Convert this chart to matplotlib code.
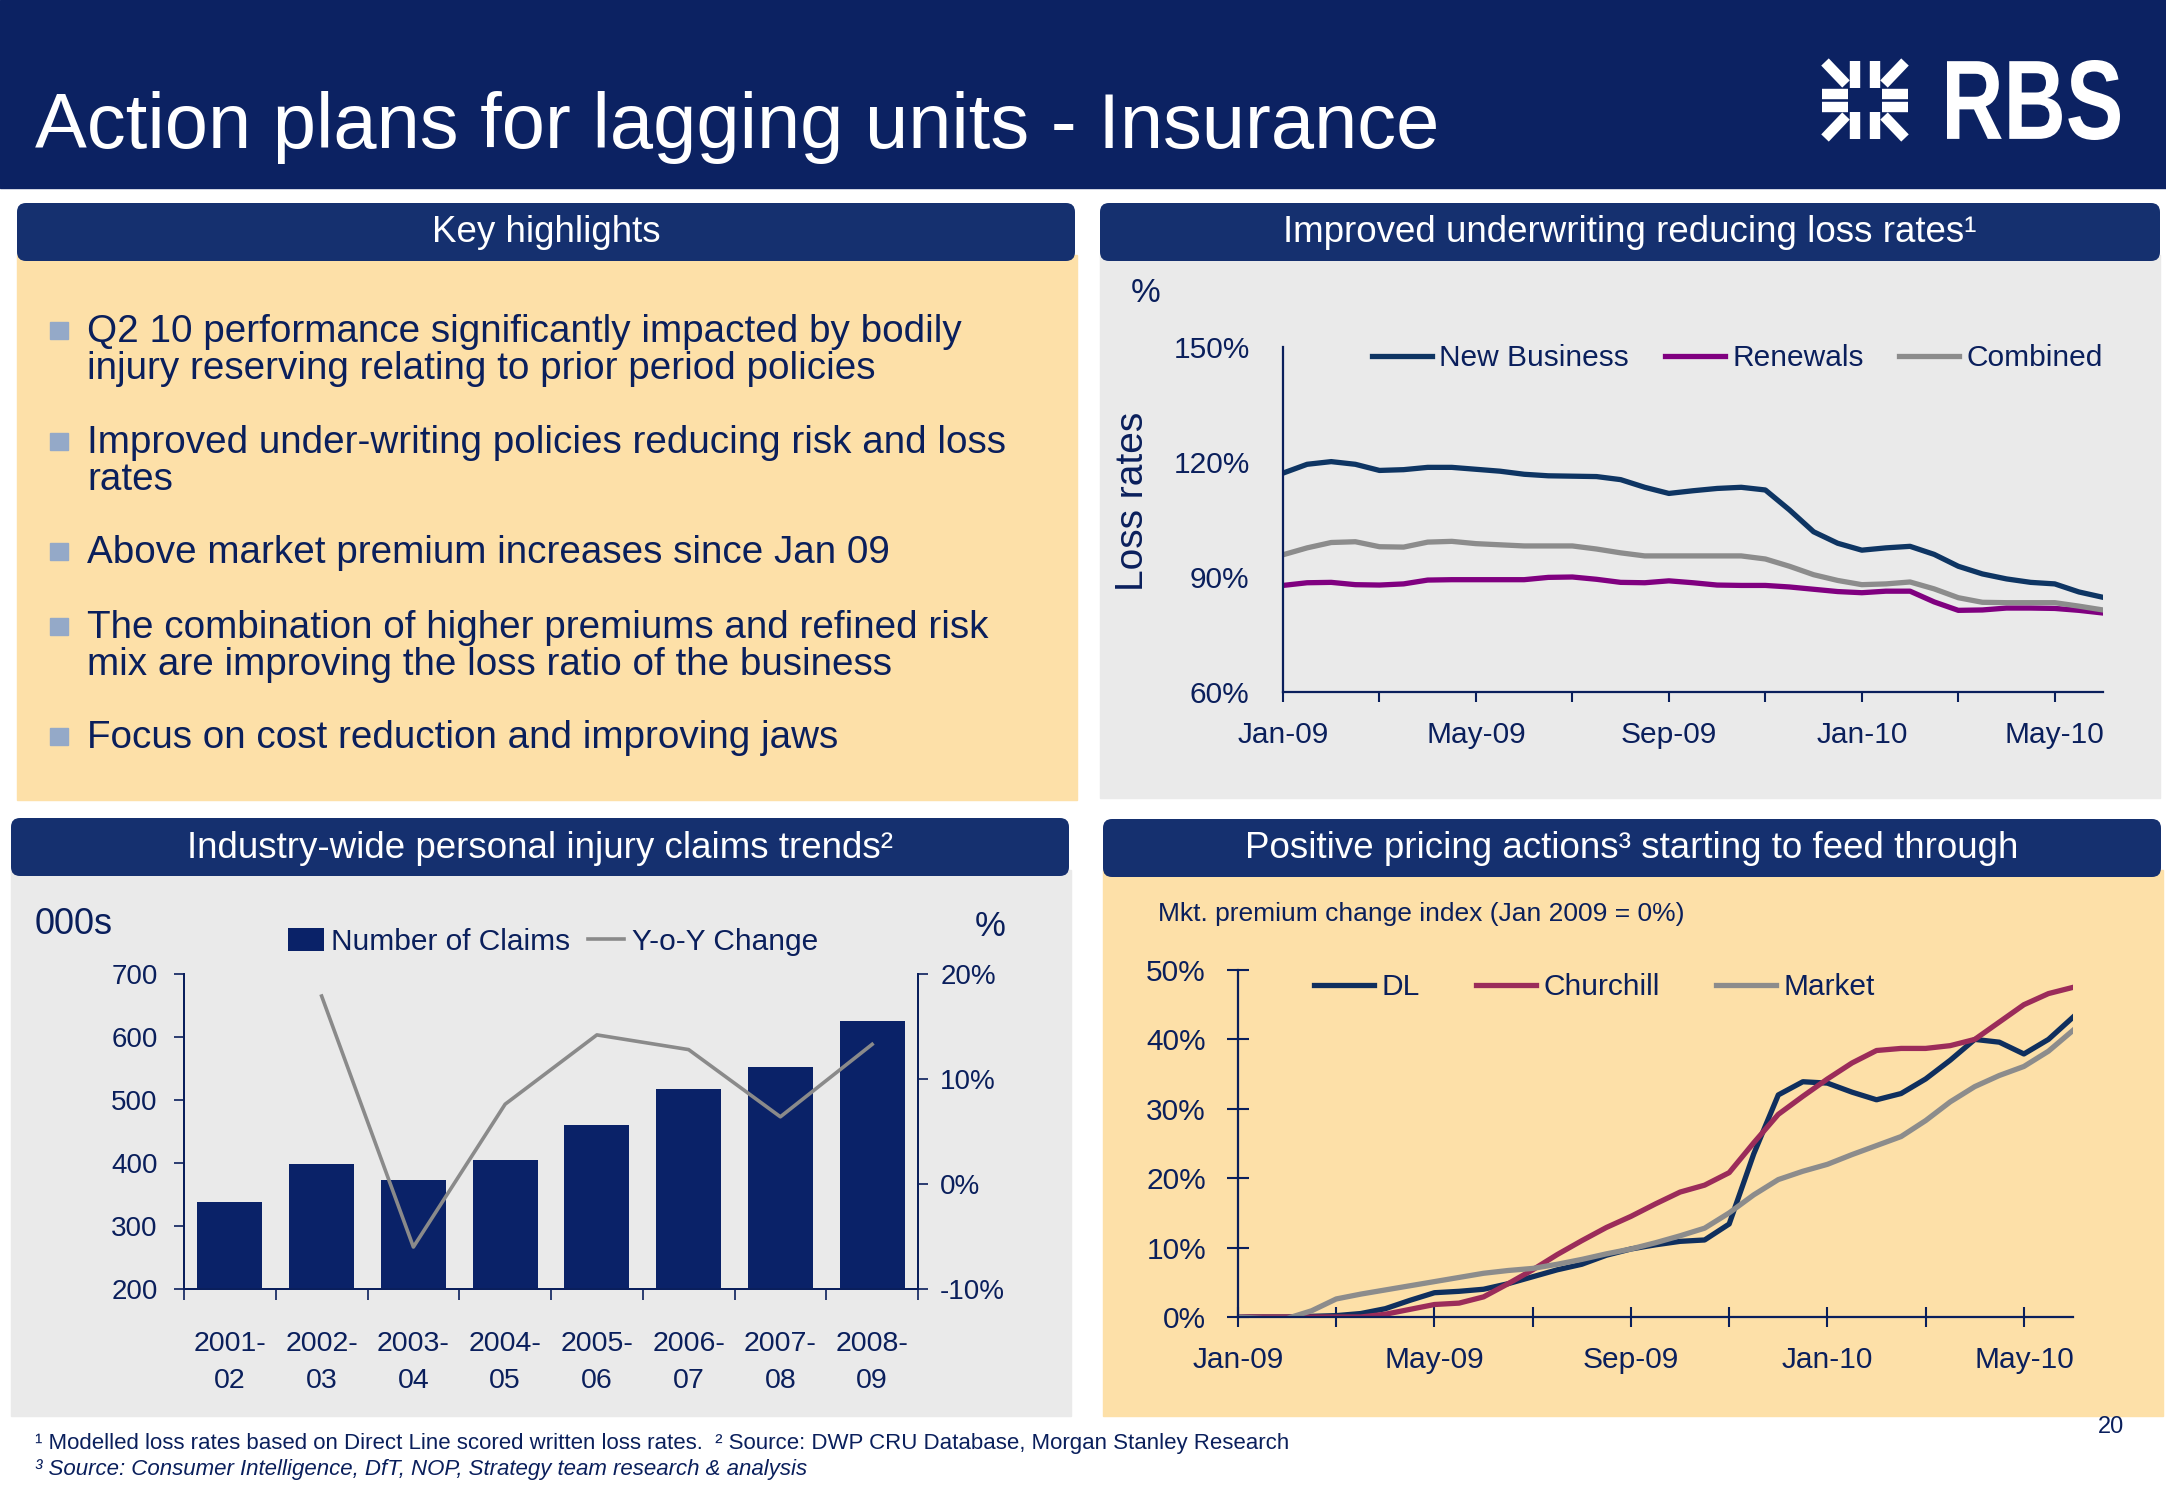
import numpy as np
import matplotlib
matplotlib.use("Agg")
import matplotlib.pyplot as plt
from matplotlib.patches import FancyBboxPatch, Rectangle, PathPatch
from matplotlib.textpath import TextPath
from matplotlib.font_manager import FontProperties
from matplotlib.transforms import Affine2D

plt.rcParams['font.family'] = ['Liberation Sans', 'DejaVu Sans']

W, H = 2166, 1500
BAND = '#0c2262'
HEAD = '#15306f'
TXT = '#0a1f5c'
PEACH = '#fde0a8'
GREYBG = '#eaeaea'

# ---- data ----
# half-month steps, Jan-09 .. Jun-10
half_months = np.arange(35) / 2
new_business = [117.1, 119.4, 120.1, 119.4, 117.8, 118.0, 118.6, 118.6, 118.1, 117.6,
                116.8, 116.4, 116.3, 116.2, 115.4, 113.4, 111.8, 112.5, 113.1, 113.4,
                112.7, 107.5, 101.8, 98.8, 97.0, 97.6, 98.0, 95.9, 92.8, 90.8,
                89.5, 88.6, 88.2, 86.1, 84.7]
renewals = [87.8, 88.5, 88.6, 88.0, 87.9, 88.2, 89.2, 89.3, 89.3, 89.3,
            89.3, 89.9, 90.0, 89.4, 88.6, 88.5, 89.0, 88.5, 87.9, 87.8,
            87.8, 87.4, 86.8, 86.2, 85.9, 86.3, 86.3, 83.5, 81.3, 81.4,
            81.9, 81.9, 81.8, 81.3, 80.6]
combined = [95.8, 97.6, 99.0, 99.2, 97.9, 97.8, 99.1, 99.3, 98.7, 98.4,
            98.1, 98.1, 98.1, 97.3, 96.3, 95.5, 95.5, 95.5, 95.5, 95.5,
            94.7, 92.8, 90.6, 89.1, 88.0, 88.2, 88.7, 86.9, 84.6, 83.4,
            83.3, 83.3, 83.3, 82.4, 81.4]

dl = [0.0, 0.0, 0.0, 0.1, 0.2, 0.5, 1.2, 2.4, 3.5, 3.7,
      4.0, 4.8, 5.8, 6.8, 7.6, 8.9, 9.8, 10.4, 10.9, 11.1,
      13.4, 23.5, 32.0, 33.9, 33.7, 32.4, 31.3, 32.2, 34.3, 37.0,
      40.0, 39.6, 37.9, 40.0, 43.2]
churchill = [0.0, 0.0, 0.0, 0.0, 0.0, 0.0, 0.4, 1.1, 1.8, 2.0,
             2.9, 4.8, 6.8, 9.0, 11.0, 12.9, 14.5, 16.3, 18.0, 19.0,
             20.8, 25.1, 29.2, 31.8, 34.3, 36.6, 38.4, 38.7, 38.7, 39.1,
             40.0, 42.5, 45.0, 46.6, 47.5]
market = [0.0, -0.2, -0.2, 0.9, 2.6, 3.3, 3.9, 4.5, 5.1, 5.7,
          6.3, 6.7, 7.0, 7.6, 8.3, 9.1, 9.8, 10.7, 11.7, 12.8,
          15.0, 17.6, 19.8, 21.0, 22.0, 23.4, 24.7, 26.0, 28.3, 31.0,
          33.2, 34.8, 36.1, 38.3, 41.3]

month_ticks = [0, 4, 8, 12, 16]
month_labels = ['Jan-09', 'May-09', 'Sep-09', 'Jan-10', 'May-10']

periods = ['2001-\n02', '2002-\n03', '2003-\n04', '2004-\n05',
           '2005-\n06', '2006-\n07', '2007-\n08', '2008-\n09']
claims = [338, 398, 373, 404, 461, 518, 552, 626]
yoy = [np.nan, 17.9, -6.0, 7.6, 14.2, 12.8, 6.4, 13.3]

highlights = [
    ["Q2 10 performance significantly impacted by bodily",
     "injury reserving relating to prior period policies"],
    ["Improved under-writing policies reducing risk and loss", "rates"],
    ["Above market premium increases since Jan 09"],
    ["The combination of higher premiums and refined risk",
     "mix are improving the loss ratio of the business"],
    ["Focus on cost reduction and improving jaws"],
]
highlight_y = [342, 453, 563, 638, 748]

fig = plt.figure(figsize=(W / 100, H / 100), dpi=100)
page = fig.add_axes([0, 0, 1, 1])
page.set_xlim(0, W)
page.set_ylim(H, 0)
page.axis('off')


def axes_px(x0, y0, x1, y1):
    ax = fig.add_axes([x0 / W, 1 - y1 / H, (x1 - x0) / W, (y1 - y0) / H])
    ax.set_facecolor('none')
    return ax


def header(x, y, w, h, title):
    page.add_patch(FancyBboxPatch((x, y), w, h, boxstyle="round,pad=0,rounding_size=9",
                                  fc=HEAD, ec='none'))
    page.text(x + w / 2, y + h / 2 + 1, title, color='white', fontsize=26.5,
              ha='center', va='center')


# top band and title
page.add_patch(Rectangle((0, 0), W, 188, color=BAND))
page.text(35, 148, "Action plans for lagging units - Insurance", color='white',
          fontsize=56, va='baseline')

# RBS logo
fp = FontProperties(family='Liberation Sans', weight='bold')
tp = TextPath((0, 0), "RBS", size=1, prop=fp)
bb = tp.get_extents()
tr = Affine2D().translate(-bb.x0, -bb.y0).scale(173 / bb.width, -80 / bb.height).translate(1947, 140)
page.add_patch(PathPatch(tr.transform_path(tp), fc='white', ec='none'))
cx, cy = 1865, 100
for sx in (-1, 1):
    for sy in (-1, 1):
        page.plot([cx + sx * 40, cx + sx * 19], [cy + sy * 38, cy + sy * 16],
                  color='white', lw=7.5, solid_capstyle='butt')
        page.plot([cx + sx * 10, cx + sx * 10], [cy + sy * 12, cy + sy * 39],
                  color='white', lw=7.5, solid_capstyle='butt')
        page.plot([cx + sx * 17, cx + sx * 43], [cy + sy * 6.5, cy + sy * 6.5],
                  color='white', lw=7.5, solid_capstyle='butt')

# panel bodies
page.add_patch(Rectangle((17, 255), 1060, 545, color=PEACH))
page.add_patch(Rectangle((1100, 255), 1060, 543, color=GREYBG))
page.add_patch(Rectangle((11, 870), 1060, 546, color=GREYBG))
page.add_patch(Rectangle((1103, 870), 1060, 546, color=PEACH))

header(17, 203, 1058, 58, "Key highlights")
header(1100, 203, 1060, 58, "Improved underwriting reducing loss rates\u00b9")
header(11, 818, 1058, 58, "Industry-wide personal injury claims trends\u00b2")
header(1103, 819, 1058, 58, "Positive pricing actions\u00b3 starting to feed through")

# key highlights
for lines, yb in zip(highlights, highlight_y):
    page.add_patch(Rectangle((50, yb - 20), 18, 17, color='#94a9c8'))
    for k, ln in enumerate(lines):
        page.text(87, yb + 37 * k, ln, color=TXT, fontsize=27.8, va='baseline')

# ---- loss rates chart ----
ax1 = axes_px(1283, 347, 2103, 692)
ax1.plot(half_months, new_business, color='#0e3563', lw=3.8, label='New Business')
ax1.plot(half_months, renewals, color='#800080', lw=3.8, label='Renewals')
ax1.plot(half_months, combined, color='#8c8c8c', lw=3.8, label='Combined')
ax1.set_xlim(0, 17)
ax1.set_ylim(60, 150)
ax1.set_yticks([60, 90, 120, 150])
ax1.set_yticklabels(['60%', '90%', '120%', '150%'])
ax1.set_xticks(month_ticks)
ax1.set_xticklabels(month_labels)
ax1.set_xticks([2, 6, 10, 14], minor=True)
for s in ['top', 'right']:
    ax1.spines[s].set_visible(False)
for s in ['left', 'bottom']:
    ax1.spines[s].set_color(TXT)
    ax1.spines[s].set_linewidth(1.6)
ax1.tick_params(axis='y', length=0, pad=24, labelsize=21.5, labelcolor=TXT)
ax1.tick_params(axis='x', which='both', direction='out', length=7, width=1.5,
                color=TXT, pad=14, labelsize=21.5, labelcolor=TXT)
ax1.legend(loc='center right', bbox_to_anchor=(1.0, 1 - 11 / 345), ncol=3,
           frameon=False, fontsize=21.5, labelcolor=TXT, handlelength=2.0,
           handletextpad=0.25, columnspacing=1.2, borderaxespad=0, borderpad=0)
page.text(1146, 294, "%", color=TXT, fontsize=24, ha='center', va='center')
page.text(1133, 501, "Loss rates", color=TXT, fontsize=28, rotation=90,
          ha='center', va='center')

# ---- claims chart ----
ax2 = axes_px(184, 974, 918, 1289)
x = np.arange(len(periods))
bars = ax2.bar(x, claims, width=0.71, color='#0a2268', label='Number of Claims')
ax2.set_xlim(-0.5, 7.5)
ax2.set_ylim(200, 700)
ax2.set_yticks([200, 300, 400, 500, 600, 700])
ax2.set_xticks(x)
ax2.set_xticklabels(periods, linespacing=1.55)
ax2.set_xticks(np.arange(-0.5, 8, 1), minor=True)
ax2b = ax2.twinx()
ax2b.set_facecolor('none')
ln, = ax2b.plot(x, yoy, color='#8a8a8a', lw=2.6, label='Y-o-Y Change')
ax2b.set_ylim(-10, 20)
ax2b.set_yticks([-10, 0, 10, 20])
ax2b.set_yticklabels(['-10%', '0%', '10%', '20%'])
for a in (ax2, ax2b):
    a.spines['top'].set_visible(False)
    for s in ['left', 'right', 'bottom']:
        a.spines[s].set_color(TXT)
        a.spines[s].set_linewidth(1.4)
ax2.tick_params(axis='y', direction='out', length=7, width=1.2, color=TXT, pad=12,
                labelsize=20, labelcolor=TXT)
ax2b.tick_params(axis='y', direction='out', length=7, width=1.2, color=TXT, pad=9,
                 labelsize=20, labelcolor=TXT)
ax2.tick_params(axis='x', which='major', length=0, pad=30, labelsize=20.5, labelcolor=TXT)
ax2.tick_params(axis='x', which='minor', direction='out', length=8, width=1.2, color=TXT)
ax2b.legend([bars, ln], ['Number of Claims', 'Y-o-Y Change'], loc='center left',
            bbox_to_anchor=((288 - 184) / 734, 1 + 32 / 315), ncol=2, frameon=False,
            fontsize=21.5, labelcolor=TXT, handlelength=1.2, handleheight=0.8,
            handletextpad=0.25, columnspacing=0.6, borderaxespad=0, borderpad=0)
page.text(35, 924, "000s", color=TXT, fontsize=26, va='center')
page.text(990, 926, "%", color=TXT, fontsize=25, ha='center', va='center')

# ---- premium index chart ----
ax3 = axes_px(1238, 970, 2073, 1317)
ax3.plot(half_months, dl, color='#0f2f5e', lw=3.8, label='DL')
ax3.plot(half_months, churchill, color='#9b2c5a', lw=3.8, label='Churchill')
ax3.plot(half_months, market, color='#8c8c8c', lw=3.8, label='Market')
ax3.set_xlim(0, 17)
ax3.set_ylim(0, 50)
ax3.set_yticks([0, 10, 20, 30, 40, 50])
ax3.set_yticklabels(['0%', '10%', '20%', '30%', '40%', '50%'])
ax3.set_xticks(month_ticks)
ax3.set_xticklabels(month_labels)
ax3.set_xticks([2, 6, 10, 14], minor=True)
for s in ['top', 'right']:
    ax3.spines[s].set_visible(False)
for s in ['left', 'bottom']:
    ax3.spines[s].set_color(TXT)
    ax3.spines[s].set_linewidth(1.6)
ax3.tick_params(axis='y', direction='inout', length=16, width=1.5, color=TXT, pad=15,
                labelsize=21.5, labelcolor=TXT)
ax3.tick_params(axis='x', which='both', direction='inout', length=14, width=1.5,
                color=TXT, pad=14, labelsize=21.5, labelcolor=TXT)
ax3.legend(loc='center left', bbox_to_anchor=((1314 - 1238) / 835, 1 - 17 / 347), ncol=3,
           frameon=False, fontsize=21.5, labelcolor=TXT, handlelength=2.0,
           handletextpad=0.25, columnspacing=1.9, borderaxespad=0, borderpad=0)
page.text(1158, 914, "Mkt. premium change index (Jan 2009 = 0%)", color=TXT,
          fontsize=19, va='center')

# footnotes
page.text(35, 1443, "\u00b9 Modelled loss rates based on Direct Line scored written loss rates.  "
          "\u00b2 Source: DWP CRU Database, Morgan Stanley Research",
          color=TXT, fontsize=16, va='center')
page.text(35, 1470, "\u00b3 Source: Consumer Intelligence, DfT, NOP, Strategy team research & analysis",
          color=TXT, fontsize=16, va='center', style='italic')
page.text(2111, 1427, "20", color=TXT, fontsize=17, ha='center', va='center')

fig.savefig('out.png', dpi=100)
